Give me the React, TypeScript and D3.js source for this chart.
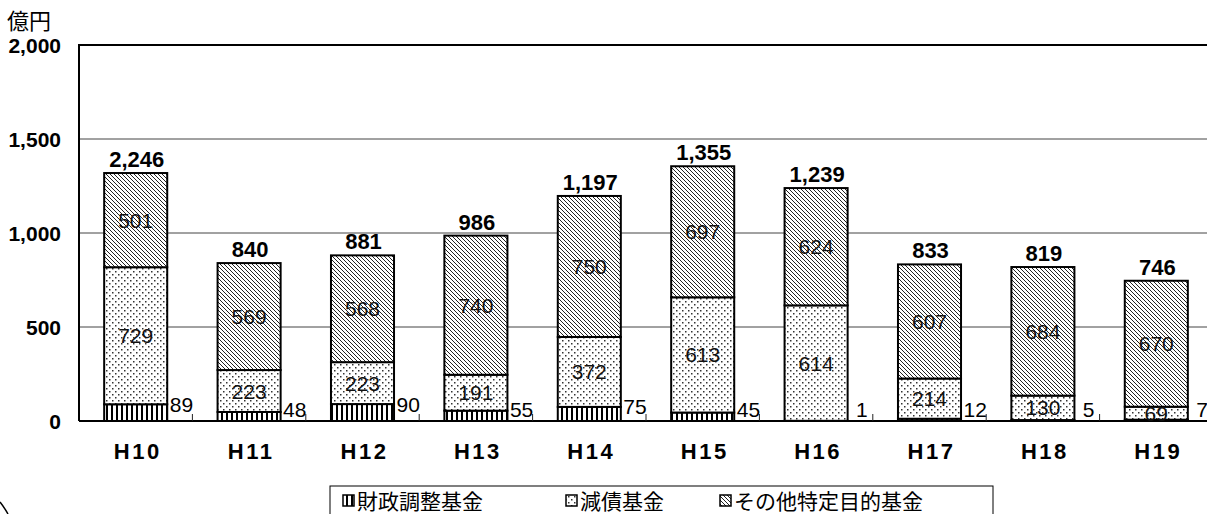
import React, { useEffect } from "react";
import * as d3 from "d3";

// Fiscal years and fund balances (億円)
const years = ["H10", "H11", "H12", "H13", "H14", "H15", "H16", "H17", "H18", "H19"];
const fiscalAdjustment = [89, 48, 90, 55, 75, 45, 1, 12, 5, 7]; // 財政調整基金
const debtReduction = [729, 223, 223, 191, 372, 613, 614, 214, 130, 69]; // 減債基金
const otherSpecific = [501, 569, 568, 740, 750, 697, 624, 607, 684, 670]; // その他特定目的基金
const totalLabels = ["2,246", "840", "881", "986", "1,197", "1,355", "1,239", "833", "819", "746"];
const yTicks = [0, 500, 1000, 1500, 2000];
const seriesNames = ["財政調整基金", "減債基金", "その他特定目的基金"];

const W = 1207;
const H = 514;
const LEFT = 79;
const TOP = 45;
const ZERO = 421;
const NUM_FONT = "'Liberation Sans', Arial, sans-serif";
const JP_FONT = "'Noto Sans CJK JP', 'Noto Sans', sans-serif";

const patternIds = ["pat-vert", "pat-dots", "pat-diag"];

export default function App() {
  useEffect(() => {
    document.body.style.margin = "0";
  }, []);

  const x = d3
    .scaleBand<string>()
    .domain(years)
    .range([LEFT, LEFT + 113.4 * years.length])
    .paddingInner(0.444)
    .paddingOuter(0.222);
  const y = d3.scaleLinear().domain([0, 2000]).range([ZERO, TOP]);
  const fmt = d3.format(",");

  const rows = years.map((yr, i) => ({
    yr,
    fa: fiscalAdjustment[i],
    dr: debtReduction[i],
    os: otherSpecific[i],
  }));
  const stack = d3.stack<any>().keys(["fa", "dr", "os"])(rows);
  const step = x.step();

  return (
    <svg
      width={W}
      height={H}
      style={{ position: "absolute", left: 0, top: 0, background: "#fff" }}
    >
      <defs>
        <pattern id="pat-vert" width={5} height={6} patternUnits="userSpaceOnUse">
          <rect width={5} height={6} fill="#fff" />
          <rect x={1} width={2} height={6} fill="#000" />
        </pattern>
        <pattern id="pat-dots" width={6} height={6} patternUnits="userSpaceOnUse">
          <rect width={6} height={6} fill="#fff" />
          <rect x={1} y={1} width={1.5} height={1.5} fill="#333" />
          <rect x={4} y={4} width={1.5} height={1.5} fill="#333" />
        </pattern>
        <pattern id="pat-diag" width={4} height={4} patternUnits="userSpaceOnUse">
          <rect width={4} height={4} fill="#fff" />
          <path d="M-1,-1 L5,5 M-1,3 L1,5 M3,-1 L5,1" stroke="#222" strokeWidth={1} />
        </pattern>
      </defs>

      {/* gridlines */}
      {yTicks
        .filter((t) => t > 0 && t < 2000)
        .map((t) => (
          <line key={t} x1={LEFT} x2={W} y1={y(t)} y2={y(t)} stroke="#444" strokeWidth={1} />
        ))}

      {/* stacked bars */}
      {stack.map((layer, si) => (
        <g key={si}>
          {layer.map((d, i) => (
            <rect
              key={i}
              x={x(years[i])}
              y={y(d[1])}
              width={x.bandwidth()}
              height={y(d[0]) - y(d[1])}
              fill={`url(#${patternIds[si]})`}
              stroke="#000"
              strokeWidth={2}
            />
          ))}
        </g>
      ))}

      {/* frame: top border, value axis, category axis */}
      <line x1={LEFT} x2={W} y1={TOP} y2={TOP} stroke="#000" strokeWidth={2} />
      <line x1={LEFT} x2={LEFT} y1={TOP - 1} y2={ZERO} stroke="#000" strokeWidth={2} />
      <line x1={LEFT} x2={W} y1={ZERO} y2={ZERO} stroke="#000" strokeWidth={2} />
      {years.map((yr, i) => (
        <line
          key={yr}
          x1={LEFT + step * (i + 1)}
          x2={LEFT + step * (i + 1)}
          y1={ZERO}
          y2={ZERO - 7}
          stroke="#222"
          strokeWidth={1}
        />
      ))}

      {/* value axis labels */}
      {yTicks.map((t) => (
        <text
          key={t}
          x={61}
          y={y(t)}
          textAnchor="end"
          dominantBaseline="central"
          fontFamily={NUM_FONT}
          fontWeight="bold"
          fontSize={21}
          fill="#000"
        >
          {fmt(t)}
        </text>
      ))}
      <text x={7} y={29} fontFamily={JP_FONT} fontSize={22} fill="#000">
        億円
      </text>

      {/* category labels */}
      {years.map((yr) => (
        <text
          key={yr}
          x={x(yr)! + x.bandwidth() / 2 + 2}
          y={459}
          textAnchor="middle"
          fontFamily={NUM_FONT}
          fontWeight="bold"
          fontSize={22}
          letterSpacing={2.5}
          fill="#000"
        >
          {yr}
        </text>
      ))}

      {/* segment labels inside bars */}
      {stack.slice(1).map((layer, li) =>
        layer.map((d, i) => (
          <text
            key={`${li}-${i}`}
            x={x(years[i])! + x.bandwidth() / 2}
            y={y((d[0] + d[1]) / 2)}
            textAnchor="middle"
            dominantBaseline="central"
            fontFamily={NUM_FONT}
            fontSize={21}
            fill="#111"
          >
            {d[1] - d[0]}
          </text>
        ))
      )}

      {/* fiscal adjustment fund labels beside bars */}
      {fiscalAdjustment.map((v, i) => (
        <text
          key={i}
          x={LEFT + step * (i + 1) - 11}
          y={Math.min(y(v), ZERO - 12)}
          textAnchor="middle"
          dominantBaseline="central"
          fontFamily={NUM_FONT}
          fontSize={21}
          fill="#000"
        >
          {v}
        </text>
      ))}

      {/* totals above bars */}
      {rows.map((r, i) => (
        <text
          key={r.yr}
          x={x(r.yr)! + x.bandwidth() / 2 + 1}
          y={y(r.fa + r.dr + r.os) - 6}
          textAnchor="middle"
          fontFamily={NUM_FONT}
          fontWeight="bold"
          fontSize={22}
          fill="#000"
        >
          {totalLabels[i]}
        </text>
      ))}

      {/* legend */}
      <rect x={330} y={486} width={663} height={40} fill="#fff" stroke="#000" strokeWidth={1} />
      {seriesNames.map((name, i) => {
        const lx = [343, 566, 720][i];
        return (
          <g key={name}>
            <rect
              x={lx}
              y={495}
              width={11}
              height={11}
              fill={`url(#${patternIds[i]})`}
              stroke="#000"
              strokeWidth={1.5}
            />
            <text x={lx + 14} y={509} fontFamily={JP_FONT} fontSize={21} fill="#000">
              {name}
            </text>
          </g>
        );
      })}

      {/* outer frame corner */}
      <path d="M0,502 Q4,507 8,514" fill="none" stroke="#000" strokeWidth={1.5} />
    </svg>
  );
}
